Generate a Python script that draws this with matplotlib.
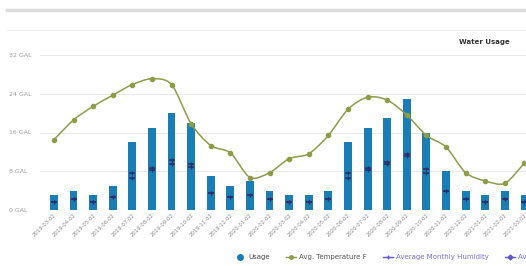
"""Water usage vs temperature and humidity, monthly bars with spline overlay."""

import matplotlib

matplotlib.use("Agg")
import matplotlib.pyplot as plt  # noqa: E402
from matplotlib.lines import Line2D  # noqa: E402
from matplotlib.path import Path  # noqa: E402
from matplotlib.patches import PathPatch  # noqa: E402

months = ["2019-03-02", "2019-04-02", "2019-05-02", "2019-06-02", "2019-07-02",
          "2019-08-02", "2019-09-02", "2019-10-02", "2019-11-02", "2019-12-02",
          "2020-01-02", "2020-02-02", "2020-03-02", "2020-04-02", "2020-05-02",
          "2020-06-02", "2020-07-02", "2020-08-02", "2020-09-02", "2020-10-02",
          "2020-11-02", "2020-12-02", "2021-01-02", "2021-02-02", "2021-03-02"]
usage = [3, 4, 3, 5, 14, 17, 20, 18, 7, 5, 6, 4, 3, 3, 4, 14, 17, 19, 23, 16, 8, 4, 3, 4, 3]
temperature = [14.5, 18.6, 21.4, 23.7, 25.9, 27.1, 25.9, 17.8, 13.3, 11.8, 6.7, 7.7, 10.6,
               11.6, 15.4, 20.8, 23.3, 22.7, 19.6, 15.4, 13.0, 7.7, 6.0, 5.5, 9.7]
humidity = [1.6, 2.2, 1.6, 2.6, 7.6, 8.7, 10.3, 9.4, 3.6, 2.6, 3.1, 2.2, 1.6, 1.6, 2.2,
            7.6, 8.7, 9.9, 11.6, 8.4, 4.0, 2.2, 1.6, 2.2, 1.6]
other_avg = [1.6, 2.2, 1.6, 2.6, 6.7, 8.2, 9.6, 8.9, 3.6, 2.6, 3.1, 2.2, 1.6, 1.6, 2.2,
             6.7, 8.2, 9.4, 11.1, 7.7, 4.0, 2.2, 1.6, 2.2, 1.6]
yticks = [0, 8, 16, 24, 32]
ytick_labels = ["0 GAL", "8 GAL", "16 GAL", "24 GAL", "32 GAL"]
legend_labels = ["Usage", "Avg. Temperature F", "Average Monthly Humidity",
                 "Average Monthly Precipitation"]

BLUE = "#1b7db6"
OLIVE = "#8e9c48"
PURPLE = "#6558c8"
DARK = "#2c2f6a"

W, H = 526, 266
fig = plt.figure(figsize=(W / 100, H / 100), dpi=100)
fig.patch.set_facecolor("white")

# page chrome above the chart
fig.add_artist(Line2D([7 / W, 1], [1 - 10 / H] * 2, color="#dcdcdc", lw=2.5))
fig.add_artist(Line2D([7 / W, 1], [1 - 30 / H] * 2, color="#eeeeee", lw=0.8))
fig.text(510 / W, 1 - 42 / H, "Water Usage", ha="right", va="center",
         fontsize=5, color="#333333", fontweight="bold")

ax = fig.add_axes([40 / W, 1 - 210 / H, (W - 40) / W, 155 / H])
x = list(range(len(months)))
ax.bar(x, usage, width=0.4, color=BLUE, zorder=2)

# spline-ish temperature curve (Catmull-Rom converted to bezier)
verts = [(x[0], temperature[0])]
codes = [Path.MOVETO]
n = len(x)
for i in range(n - 1):
    p0 = (x[max(i - 1, 0)], temperature[max(i - 1, 0)])
    p1 = (x[i], temperature[i])
    p2 = (x[i + 1], temperature[i + 1])
    p3 = (x[min(i + 2, n - 1)], temperature[min(i + 2, n - 1)])
    c1 = (p1[0] + (p2[0] - p0[0]) / 7, p1[1] + (p2[1] - p0[1]) / 7)
    c2 = (p2[0] - (p3[0] - p1[0]) / 7, p2[1] - (p3[1] - p1[1]) / 7)
    verts += [c1, c2, p2]
    codes += [Path.CURVE4] * 3
ax.add_patch(PathPatch(Path(verts, codes), fill=False, edgecolor=OLIVE, lw=1.1, zorder=3))
ax.plot(x, temperature, "o", color=OLIVE, ms=3, zorder=4)

for vals in (humidity, other_avg):
    ax.plot(x, vals, "_", color=DARK, ms=5, mew=1.1, zorder=5)
    ax.plot(x, vals, "+", color=DARK, ms=2.5, mew=0.8, zorder=5)

ax.set_xlim(-0.71, 24.08)
ax.set_ylim(0, 32)
ax.set_yticks(yticks)
ax.set_yticklabels(ytick_labels)
ax.set_xticks(x)
ax.set_xticklabels(months, rotation=45, ha="right", va="top", rotation_mode="anchor",
                   fontsize=3.8, color="#888888")
for lab in ax.get_yticklabels():
    lab.set_horizontalalignment("left")
ax.tick_params(axis="y", length=0, pad=22, labelsize=4.5, labelcolor="#9a9a9a")
ax.tick_params(axis="x", length=0, pad=2)
ax.grid(axis="y", color="#e8e8e8", lw=0.7, zorder=0)
for s in ax.spines.values():
    s.set_visible(False)
ax.set_facecolor("none")

handles = [
    Line2D([], [], ls="none", marker="o", color=BLUE, ms=4),
    Line2D([], [], color=OLIVE, marker="o", ms=2.5, lw=1),
    Line2D([], [], color=PURPLE, marker="+", ms=3.5, lw=1),
    Line2D([], [], color=PURPLE, marker="D", ms=2.5, lw=1),
]
leg = fig.legend(handles, legend_labels, loc="center left", ncol=4,
                 bbox_to_anchor=(229 / W, 1 - 257 / H), frameon=False,
                 fontsize=5, handlelength=1.5, handletextpad=0.4, columnspacing=2.3)
for txt, col in zip(leg.get_texts(), ["#444444", "#555555", "#7a6ed6", "#7a6ed6"]):
    txt.set_color(col)

fig.savefig("out.png", dpi=100)
